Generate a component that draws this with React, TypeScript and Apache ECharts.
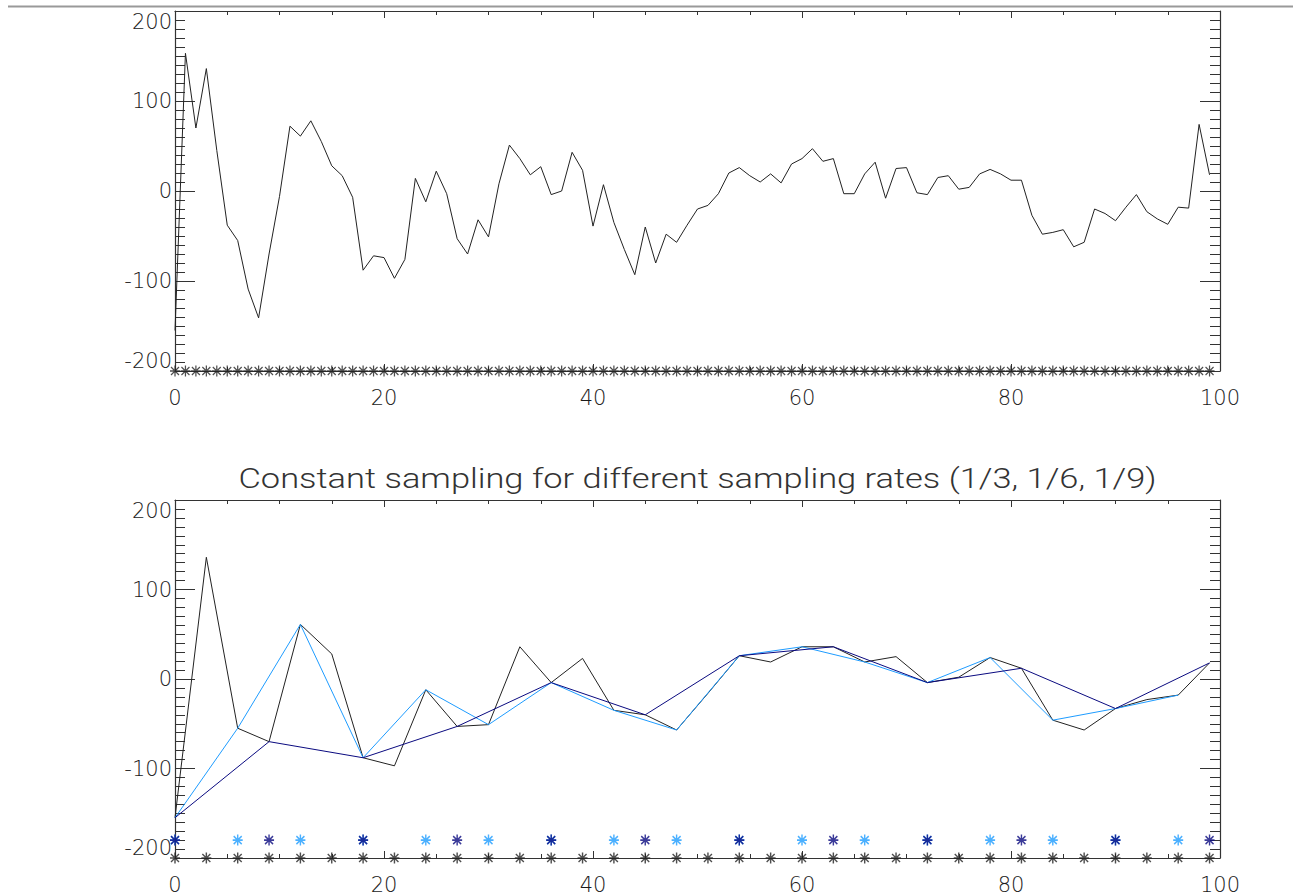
import React, { useEffect, useRef } from "react";
import * as echarts from "echarts";

// Original signal (x = 0..99)
const signal: number[] = [
  -155, 153, 70, 136, 45, -38, -55, -109, -141, -70,
  -6, 72, 61, 78, 55, 28, 17, -7, -88, -72,
  -74, -97, -76, 14, -12, 22, -3, -53, -70, -32,
  -51, 8, 51, 36, 18, 27, -4, 0, 43, 23,
  -39, 7, -35, -65, -93, -40, -80, -48, -57, -38,
  -20, -16, -3, 20, 26, 17, 10, 19, 9, 30,
  36, 47, 33, 36, -3, -3, 19, 32, -8, 25,
  26, -2, -4, 15, 17, 2, 4, 19, 24, 19,
  12, 12, -27, -48, -46, -43, -62, -57, -20, -25,
  -33, -18, -4, -23, -31, -37, -18, -19, 74, 18,
];

const samplingSteps = [3, 6, 9];
const sampleColors = ["#222222", "#1e9cff", "#0a0a80"];
const baseMarkerY = -200;
const rateMarkerY = -180;

const xTicks = [0, 20, 40, 60, 80, 100];
const yTicks = [-200, -100, 0, 100, 200];

const titleBottom = "Constant sampling for different sampling rates (1/3, 1/6, 1/9)";

const ASTERISK = "path://M0,-5.5L0,5.5M-5,0L5,0M-4,-4L4,4M-4,4L4,-4";

const TITLE_FONT = "Roboto, 'DejaVu Sans', sans-serif";
const LABEL_FONT = "'DejaVu Sans', Roboto, sans-serif";
const AXIS_COLOR = "#333";

export default function App() {
  const ref = useRef<HTMLDivElement>(null);

  useEffect(() => {
    if (!ref.current) return;
    const chart = echarts.init(ref.current, undefined, { renderer: "svg" });

    const pts = signal.map((v, i) => [i, v]);
    const sampled = (step: number) => pts.filter(([i]) => i % step === 0);

    const grids = [
      { left: 175, right: 75, top: 11, height: 360 },
      { left: 175, right: 75, top: 500, height: 358 },
    ];

    const labelStyle = {
      fontSize: 21,
      fontFamily: LABEL_FONT,
      fontWeight: 200,
      color: "#1a1a1a",
    };

    const xAxisBase = (gi: number, pos: "bottom" | "top") => ({
      type: "value",
      gridIndex: gi,
      position: pos,
      min: xTicks[0],
      max: xTicks[xTicks.length - 1],
      interval: 20,
      axisLine: { show: true, onZero: false, lineStyle: { color: AXIS_COLOR, width: 1.2 } },
      axisTick: { show: true, inside: true, length: 7, lineStyle: { color: AXIS_COLOR } },
      minorTick: { show: true, splitNumber: 4, length: 4, lineStyle: { color: AXIS_COLOR } },
      splitLine: { show: false },
      axisLabel: {
        show: pos === "bottom",
        margin: 16,
        ...labelStyle,
      },
    });

    const yAxisBase = (gi: number, pos: "left" | "right") => ({
      type: "value",
      gridIndex: gi,
      position: pos,
      min: yTicks[0],
      max: yTicks[yTicks.length - 1],
      interval: 100,
      axisLine: { show: true, onZero: false, lineStyle: { color: AXIS_COLOR, width: 1.2 } },
      axisTick: { show: true, inside: true, length: 20, lineStyle: { color: AXIS_COLOR } },
      minorTick: { show: true, splitNumber: 10, length: 10, lineStyle: { color: AXIS_COLOR } },
      splitLine: { show: false },
      axisLabel: {
        show: pos === "left",
        margin: 3,
        ...labelStyle,
        verticalAlignMaxLabel: "top",
        verticalAlignMinLabel: "bottom",
      },
    });

    const asterisk = (name: string, xi: number, data: number[][], color: string, bw: number) => ({
      name,
      type: "scatter",
      xAxisIndex: xi,
      yAxisIndex: xi,
      data,
      symbol: ASTERISK,
      symbolSize: [10, 11],
      itemStyle: { color, borderColor: color, borderWidth: bw },
      silent: true,
      clip: false,
      z: 3,
    });

    const line = (name: string, xi: number, data: number[][], color: string) => ({
      name,
      type: "line",
      xAxisIndex: xi,
      yAxisIndex: xi,
      data,
      showSymbol: false,
      symbol: "none",
      lineStyle: { color, width: 1 },
      silent: true,
      z: 2,
    });

    const series: any[] = [
      line("signal", 0, pts, "#222"),
      asterisk("signal samples", 0, pts.map(([i]) => [i, baseMarkerY]), "#222", 1.3),
    ];

    samplingSteps.forEach((step, k) => {
      series.push(line(`1/${step}`, 2, sampled(step), sampleColors[k]));
    });
    samplingSteps.forEach((step, k) => {
      const y = k === 0 ? baseMarkerY : rateMarkerY;
      series.push(
        asterisk(`1/${step} samples`, 2, sampled(step).map(([i]) => [i, y]), sampleColors[k], 1.5)
      );
    });

    chart.setOption({
      animation: false,
      backgroundColor: "#fff",
      grid: grids,
      xAxis: [xAxisBase(0, "bottom"), xAxisBase(0, "top"), xAxisBase(1, "bottom"), xAxisBase(1, "top")],
      yAxis: [yAxisBase(0, "left"), yAxisBase(0, "right"), yAxisBase(1, "left"), yAxisBase(1, "right")],
      series,
      graphic: [
        {
          type: "line",
          shape: { x1: 8, y1: 6.5, x2: 1293, y2: 6.5 },
          style: { stroke: "#999", lineWidth: 2 },
        },
        {
          type: "text",
          x: 697.5,
          y: 479,
          scaleX: 1.23,
          style: {
            text: titleBottom,
            fill: "#333",
            fontSize: 28,
            fontFamily: TITLE_FONT,
            fontWeight: 300,
            textAlign: "center",
            textVerticalAlign: "middle",
          },
        },
      ],
    });

    return () => chart.dispose();
  }, []);

  return (
    <div
      ref={ref}
      style={{ position: "fixed", left: 0, top: 0, width: 1295, height: 896, background: "#fff" }}
    />
  );
}
